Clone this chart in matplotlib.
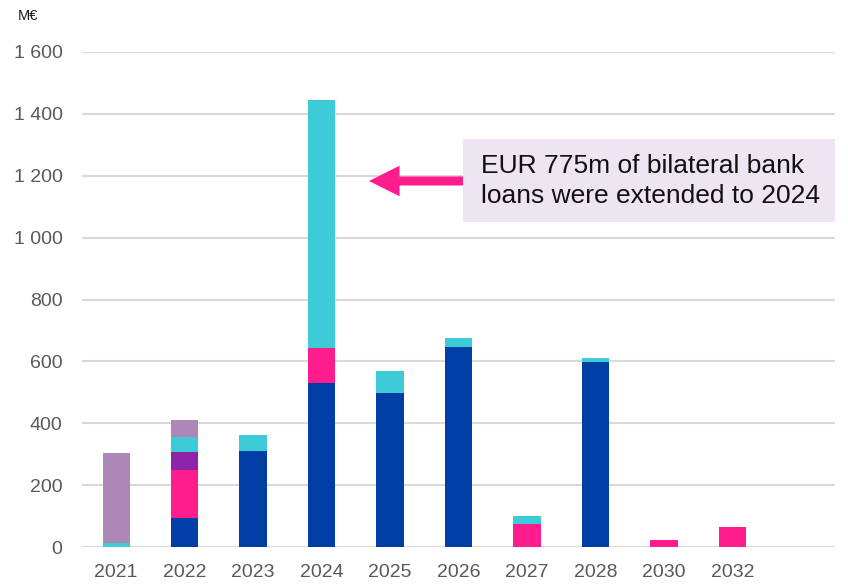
import matplotlib
matplotlib.use("Agg")
import matplotlib.pyplot as plt
import numpy as np

years = ["2021", "2022", "2023", "2024", "2025", "2026", "2027", "2028", "2030", "2032", ""]
s_blue = [0, 95, 310, 529, 497, 647, 0, 598, 0, 0, 0]
s_pink = [0, 154, 0, 115, 0, 0, 73, 0, 23, 65, 0]
s_purple = [0, 57, 0, 0, 0, 0, 0, 0, 0, 0, 0]
s_cyan = [14, 50, 52, 800, 72, 28, 27, 12, 0, 0, 0]
s_lav = [290, 54, 0, 0, 0, 0, 0, 0, 0, 0, 0]
yticks = [0, 200, 400, 600, 800, 1000, 1200, 1400, 1600]
ytick_labels = ["0", "200", "400", "600", "800", "1 000", "1 200", "1 400", "1 600"]

plt.rcParams['font.family'] = ['Liberation Sans', 'DejaVu Sans']

fig = plt.figure(figsize=(8.48, 5.84), dpi=100)
ax = fig.add_axes([82/848, 1-547/584, (835-82)/848, (547-52)/584])

x = np.arange(len(years))
series = [(s_blue, "#003DA5"), (s_pink, "#FF1D8E"), (s_purple, "#8E24AA"),
          (s_cyan, "#3ECBD8"), (s_lav, "#AD87B6")]
bottom = np.zeros(len(years))
for vals, col in series:
    v = np.array(vals, dtype=float)
    ax.bar(x, v, bottom=bottom, width=0.4, color=col, zorder=3)
    bottom += v

ax.set_xlim(-0.5, len(years) - 0.5)
ax.set_ylim(0, 1600)
ax.set_yticks(yticks)
ax.set_yticklabels(ytick_labels)
ax.set_xticks(x)
ax.set_xticklabels(years)
ax.grid(axis='y', color='#D9D9D9', linewidth=1.5, zorder=0)
for s in ax.spines.values():
    s.set_visible(False)
ax.tick_params(axis='both', length=0, labelsize=14, colors='#595959')
ax.tick_params(axis='y', pad=14)
ax.tick_params(axis='x', pad=12)

fig.text(18/848, 1-16/584, "M€", fontsize=10.5, color='#1a1a1a', va='center', ha='left')

# annotation box
box = plt.Rectangle((463/848, 1-222/584), (835-463)/848, (222-139)/584,
                    transform=fig.transFigure, facecolor='#EDE5F1', edgecolor='none', zorder=5)
fig.patches.append(box)
fig.text(481/848, 1-181/584, "EUR 775m of bilateral bank\nloans were extended to 2024",
         fontsize=19, color='#111111', va='center', ha='left', linespacing=1.3, zorder=6)
ax.annotate("", xy=(369/848, 1-181/584), xycoords='figure fraction',
            xytext=(474/848, 1-181/584), textcoords='figure fraction',
            arrowprops=dict(arrowstyle='simple,head_width=2.2,head_length=2.2,tail_width=0.65',
                            mutation_scale=10, facecolor='#FF1D8E', edgecolor='none', lw=0,
                            shrinkA=0, shrinkB=0), zorder=6)

fig.savefig("out.png", dpi=100)
